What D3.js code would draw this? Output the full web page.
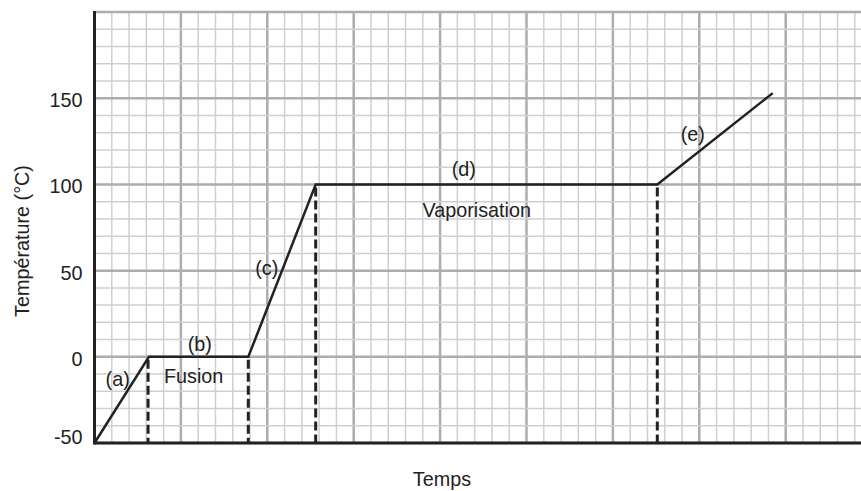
<!DOCTYPE html>
<html>
<head>
<meta charset="utf-8">
<script src="https://cdn.jsdelivr.net/npm/d3@7"></script>
<style>
  body { margin: 0; background: #fff; }
  svg text { font-family: "Liberation Sans", Arial, sans-serif; fill: #222; }
</style>
</head>
<body>
<div id="chart"></div>
<script>
// Heating curve of water: time (grid units) vs temperature (°C)
const times = [0, 3.15, 8.9, 12.8, 32.57, 39.25]
const temps = [-50, 0, 0, 100, 100, 153]
// points where phase change starts/ends (dashed drops)
const dropTimes = [3.1, 8.9, 12.8, 32.57]
const dropTemps = [0, 0, 100, 100]
const yTicks = [-50, 0, 50, 100, 150]
const labelTexts = ["(a)", "(b)", "Fusion", "(c)", "(d)", "Vaporisation", "(e)"]
const labelTimes = [1.34, 6.09, 5.74, 9.97, 21.37, 22.12, 34.62]
const labelTemps = [-16.9, 3.4, -15.0, 47.5, 104.9, 81.3, 125.2]

const w = 861
const h = 491
const left = 94.5
const bottom = 443
const fontSize = "19.8px"

const x = d3.scaleLinear().domain([0, 44.3]).range([left, 860])
const y = d3.scaleLinear().domain([-50, 200]).range([bottom, 12.1])

const svg = d3.select("#chart")
  .append("svg")
  .attr("width", w)
  .attr("height", h)

// grid paper
const grid = svg.append("g")
d3.range(0, 45, 1).forEach(t => {
  const major = t % 5 == 0
  grid.append("line")
    .attr("x1", x(t)).attr("x2", x(t))
    .attr("y1", y(200)).attr("y2", bottom)
    .attr("stroke", major ? "#adadb0" : "#cfcfd2")
    .attr("stroke-width", major ? 2.5 : 1.5)
})
d3.range(-50, 201, 10).forEach(v => {
  const major = v % 50 == 0
  grid.append("line")
    .attr("x1", left).attr("x2", w)
    .attr("y1", y(v)).attr("y2", y(v))
    .attr("stroke", major ? "#adadb0" : "#cfcfd2")
    .attr("stroke-width", major ? 2.5 : 1.5)
})

// y axis labels (plain hyphen for negatives)
const yAxis = d3.axisLeft(y)
  .tickValues(yTicks)
  .tickFormat(d => String(d))
  .tickSize(0)
  .tickPadding(12)
svg.append("g")
  .attr("transform", `translate(${left},0)`)
  .call(yAxis)
  .call(g => g.select(".domain").remove())
  .selectAll("text")
    .style("font-size", fontSize)
    .attr("dy", null)
    .attr("y", d => Math.min(8.5, bottom - y(d)))
    .style("font-family", '"Liberation Sans", Arial, sans-serif')
    .style("fill", "#222")

// axis lines
svg.append("line")
  .attr("x1", left).attr("x2", left)
  .attr("y1", 11).attr("y2", bottom + 1.5)
  .attr("stroke", "#222").attr("stroke-width", 3)
svg.append("line")
  .attr("x1", left).attr("x2", w)
  .attr("y1", bottom).attr("y2", bottom)
  .attr("stroke", "#222").attr("stroke-width", 3)

// dashed drop lines
svg.selectAll(".drop")
  .data(dropTimes)
  .enter()
  .append("line")
    .attr("class", "drop")
    .attr("x1", d => x(d)).attr("x2", d => x(d))
    .attr("y1", (d, i) => y(dropTemps[i]) + 3)
    .attr("y2", bottom)
    .attr("stroke", "#222")
    .attr("stroke-width", 3)
    .attr("stroke-dasharray", "9,4")

// curve
const line = d3.line()
  .x(d => x(d[0]))
  .y(d => y(d[1]))
svg.append("path")
  .datum(times.map((t, i) => [t, temps[i]]))
  .attr("d", line)
  .attr("fill", "none")
  .attr("stroke", "#222")
  .attr("stroke-width", 2.5)

// phase labels
svg.selectAll(".lbl")
  .data(labelTexts)
  .enter()
  .append("text")
    .attr("class", "lbl")
    .attr("x", (d, i) => x(labelTimes[i]))
    .attr("y", (d, i) => y(labelTemps[i]))
    .attr("text-anchor", "middle")
    .style("font-size", fontSize)
    .text(d => d)

// axis titles
svg.append("text")
  .attr("x", 442)
  .attr("y", 486)
  .attr("text-anchor", "middle")
  .style("font-size", fontSize)
  .text("Temps")

svg.append("text")
  .attr("transform", "rotate(-90)")
  .attr("x", -241)
  .attr("y", 29)
  .attr("text-anchor", "middle")
  .style("font-size", fontSize)
  .text("Température (°C)")
</script>
</body>
</html>
